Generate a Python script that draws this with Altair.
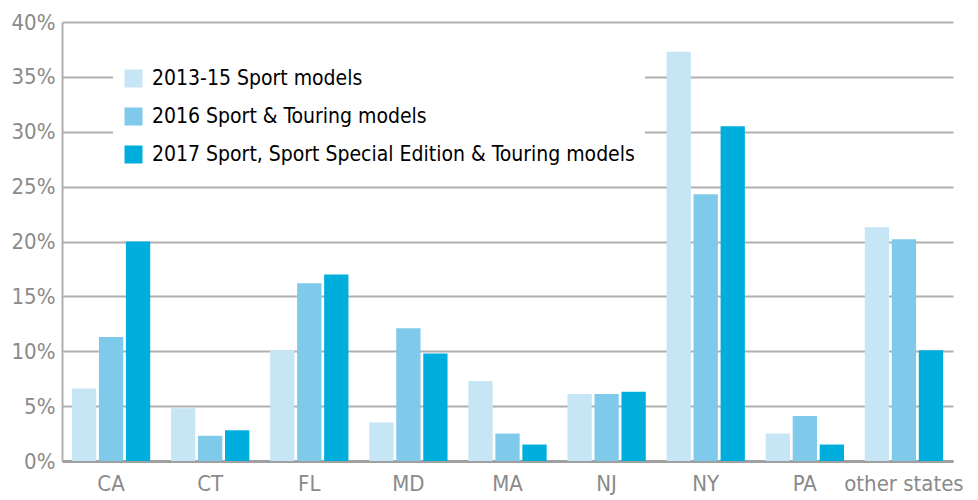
import altair as alt
import pandas as pd

states = ["CA", "CT", "FL", "MD", "MA", "NJ", "NY", "PA", "other states"]
series = [
    "2013-15 Sport models",
    "2016 Sport & Touring models",
    "2017 Sport, Sport Special Edition & Touring models",
]
v2013 = [6.6, 4.8, 10.1, 3.5, 7.3, 6.1, 37.3, 2.5, 21.3]
v2016 = [11.3, 2.3, 16.2, 12.1, 2.5, 6.1, 24.3, 4.1, 20.2]
v2017 = [20.0, 2.8, 17.0, 9.8, 1.5, 6.3, 30.5, 1.5, 10.1]
colors = ["#C6E5F5", "#7FCAEA", "#00AEDD"]

rows = []
for s, vals in zip(series, [v2013, v2016, v2017]):
    for st, v in zip(states, vals):
        rows.append({"state": st, "series": s, "value": v / 100})
df = pd.DataFrame(rows)

FONT = "DejaVu Sans Condensed, Liberation Sans Narrow, Roboto, sans-serif"

chart = alt.Chart(df).mark_bar().encode(
    x=alt.X("state:N", sort=states, title=None,
            scale=alt.Scale(paddingInner=0.21, paddingOuter=0.1, range=[0, 891]),
            axis=alt.Axis(labelAngle=0, labelFontSize=22, labelColor="#8a8a8a",
                          labelFont=FONT, ticks=False, domainColor="#a0a0a0",
                          domainWidth=3, labelPadding=12)),
    xOffset=alt.XOffset("series:N", sort=series,
                        scale=alt.Scale(paddingInner=0.1, paddingOuter=0)),
    y=alt.Y("value:Q", title=None,
            scale=alt.Scale(domain=[0, 0.4]),
            axis=alt.Axis(format="%", values=[0, 0.05, 0.1, 0.15, 0.2, 0.25, 0.3, 0.35, 0.4],
                          labelFontSize=22, labelColor="#8a8a8a", labelFont=FONT,
                          ticks=False, domainColor="#b0b0b0", domainWidth=2,
                          gridColor="#b0b0b0", gridWidth=2, labelPadding=7)),
    color=alt.Color("series:N", sort=series,
                    scale=alt.Scale(domain=series, range=colors),
                    legend=alt.Legend(title=None, orient="none", legendX=51, legendY=36,
                                      fillColor="white", padding=10,
                                      symbolType="square", symbolSize=324,
                                      symbolStrokeWidth=0, symbolOpacity=1,
                                      labelFontSize=21, labelColor="black", labelFont=FONT,
                                      labelOffset=8, rowPadding=16, labelLimit=600)),
).properties(
    width=906, height=439,
    autosize=alt.AutoSizeParams(type="none"),
    padding={"left": 54, "top": 14, "right": 2, "bottom": 38},
).configure_view(stroke=None)

chart.save("out.html", embed_options={"renderer": "svg", "actions": False})
